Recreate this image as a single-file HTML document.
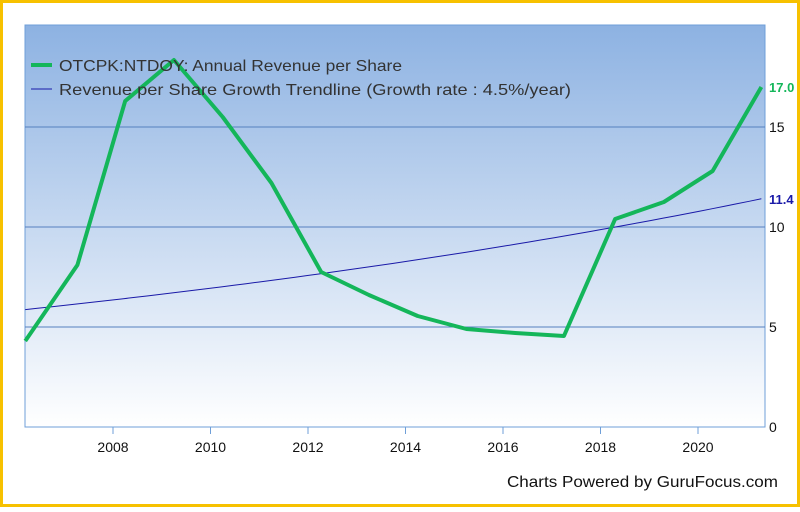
<!DOCTYPE html>
<html><head><meta charset="utf-8"><style>
body{margin:0;width:800px;height:507px;overflow:hidden;background:#fff;font-family:"Liberation Sans",sans-serif}
</style></head><body>
<svg width="800" height="507" xmlns="http://www.w3.org/2000/svg" font-family="Liberation Sans, sans-serif">
<defs><linearGradient id="bg" x1="0" y1="0" x2="0" y2="1"><stop offset="0" stop-color="#8db2e2"/><stop offset="1" stop-color="#ffffff"/></linearGradient></defs>
<rect x="1.5" y="1.5" width="797" height="504" fill="#fff" stroke="#f7c100" stroke-width="3"/>
<rect x="25" y="25" width="740" height="402" fill="url(#bg)" stroke="#6f9fd8" stroke-width="1"/>
<g id="grid"></g><g id="xt"></g><g id="yt"></g><g id="series"></g>
<g>
<line x1="31" y1="65" x2="52" y2="65" stroke="#14b65a" stroke-width="4"/>
<text x="59" y="71" font-size="16" fill="#333" textLength="343" lengthAdjust="spacingAndGlyphs">OTCPK:NTDOY: Annual Revenue per Share</text>
<line x1="31" y1="89" x2="52" y2="89" stroke="#1a1aa8" stroke-width="1"/>
<text x="59" y="95" font-size="16" fill="#333" textLength="512" lengthAdjust="spacingAndGlyphs">Revenue per Share Growth Trendline (Growth rate : 4.5%/year)</text>
</g>
<text x="507" y="487" font-size="16" fill="#111" textLength="271" lengthAdjust="spacingAndGlyphs">Charts Powered by GuruFocus.com</text>
</svg>
<script>
const years=[2006.2,2007.27,2008.25,2009.25,2010.25,2011.25,2012.27,2013.25,2014.25,2015.25,2016.25,2017.25,2018.3,2019.3,2020.3,2021.3];
const revenue=[4.3,8.1,16.3,18.35,15.5,12.2,7.75,6.6,5.55,4.9,4.7,4.55,10.4,11.25,12.8,17.0];
const xTicks=[2008,2010,2012,2014,2016,2018,2020];
const yTicks=[0,5,10,15];
const trendStart=5.87, growth=0.045;
const NS="http://www.w3.org/2000/svg";
const X=y=>113+(y-2008)*48.75, Y=v=>427-v*20;
function mk(t,a,p){const e=document.createElementNS(NS,t);for(const k in a)e.setAttribute(k,a[k]);p.appendChild(e);return e;}
const g=document.getElementById('grid'),xt=document.getElementById('xt'),yt=document.getElementById('yt'),s=document.getElementById('series');
yTicks.forEach(v=>{
 if(v>0){const l=mk('line',{x1:25,x2:765,y1:Y(v),y2:Y(v),stroke:'#5580bf','stroke-width':1},g);
 
 }
 const t=mk('text',{x:769,y:Y(v)+5,'font-size':14,fill:'#111'},yt);t.textContent=v;
 
 
});
xTicks.forEach(v=>{
 const l=mk('line',{x1:X(v),x2:X(v),y1:427,y2:434,stroke:'#6f9fd8','stroke-width':1},xt);
 
 
 const t=mk('text',{x:X(v),y:452,'font-size':14,fill:'#111','text-anchor':'middle'},xt);t.textContent=v;
 
 
});
const y0=years[0],y1=years[years.length-1];let tp=[];
for(let i=0;i<=60;i++){const yr=y0+(y1-y0)*i/60;tp.push(X(yr)+','+Y(trendStart*Math.pow(1+growth,yr-y0)));}
const tl=mk('polyline',{points:tp.join(' '),fill:'none',stroke:'#1a1aa8','stroke-width':1},s);


const rl=mk('polyline',{points:years.map((y,i)=>X(y)+','+Y(revenue[i])).join(' '),fill:'none',stroke:'#14b65a','stroke-width':4,'stroke-linejoin':'round'},s);


const endT=trendStart*Math.pow(1+growth,y1-y0);
const a=mk('text',{x:769,y:Y(revenue[revenue.length-1])+5,'font-size':13,'font-weight':'bold',fill:'#14b65a'},s);a.textContent=revenue[revenue.length-1].toFixed(1);


const b=mk('text',{x:769,y:Y(endT)+5,'font-size':13,'font-weight':'bold',fill:'#1a1aa8'},s);b.textContent=endT.toFixed(1);


</script>
</body></html>
